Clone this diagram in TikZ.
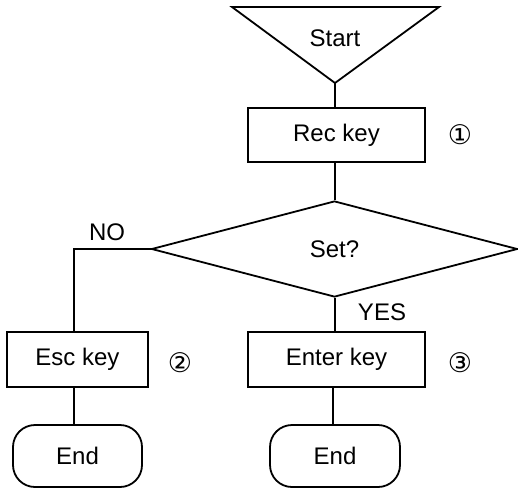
\documentclass[tikz,border=0pt]{standalone}
\usepackage{fontspec}
\setmainfont{Liberation Sans}
\newfontfamily\symfont{DejaVu Sans}
\usetikzlibrary{shapes.geometric}
\begin{document}
\begin{tikzpicture}[x=1pt,y=-1pt,
  every node/.style={font=\fontsize{24}{28}\selectfont, inner sep=0pt},
  line/.style={line width=1.8pt},
  procbox/.style={draw, line width=1.8pt, rectangle},
  termbox/.style={draw, line width=1.8pt, rectangle, rounded corners=22pt},
  decbox/.style={draw, line width=1.8pt, diamond},
  numlbl/.style={font=\symfont\fontsize{27}{30}\selectfont}]
\useasboundingbox (0,0) rectangle (518,488);
% Start triangle
\coordinate (tl) at (232,7);
\coordinate (tr) at (439,7);
\coordinate (apex) at (335,83);
\draw[line, line join=miter] (tl) -- (tr) -- (apex) -- cycle;
\node (start) at (335,38) {Start};
% boxes
\node[procbox, minimum width=177pt, minimum height=54pt] (rec) at (336.5,135) {Rec key};
\node[numlbl] (n1) at (460,135) {①};
\node[decbox, minimum width=366pt, minimum height=96pt] (set) at (334.5,249) {Set?};
\node (no) at (107,232) {NO};
\node (yes) at (382,312) {YES};
\node[procbox, minimum width=141pt, minimum height=55pt] (esc) at (77.5,359.5) {Esc key};
\node[numlbl] (n2) at (180,363) {②};
\node[procbox, minimum width=177pt, minimum height=55pt] (enter) at (336.5,359.5) {Enter key};
\node[numlbl] (n3) at (460,363) {③};
\node[termbox, minimum width=129pt, minimum height=62pt] (end1) at (77.5,456) {End};
\node[termbox, minimum width=130pt, minimum height=62pt] (end2) at (335,456) {End};
% connectors
\draw[line] (apex) -- (apex |- rec.north);
\draw[line] (set.north -| 335,0) -- (rec.south -| 335,0);
\draw[line] (set.west) -| ([xshift=-3.5pt]esc.north);
\draw[line] ([xshift=-3.5pt]esc.south) -- ([xshift=-3.5pt]end1.north);
\draw[line] (set.south -| 335,0) -- (enter.north -| 335,0);
\draw[line] (enter.south -| 333,0) -- (end2.north -| 333,0);
\end{tikzpicture}
\end{document}
